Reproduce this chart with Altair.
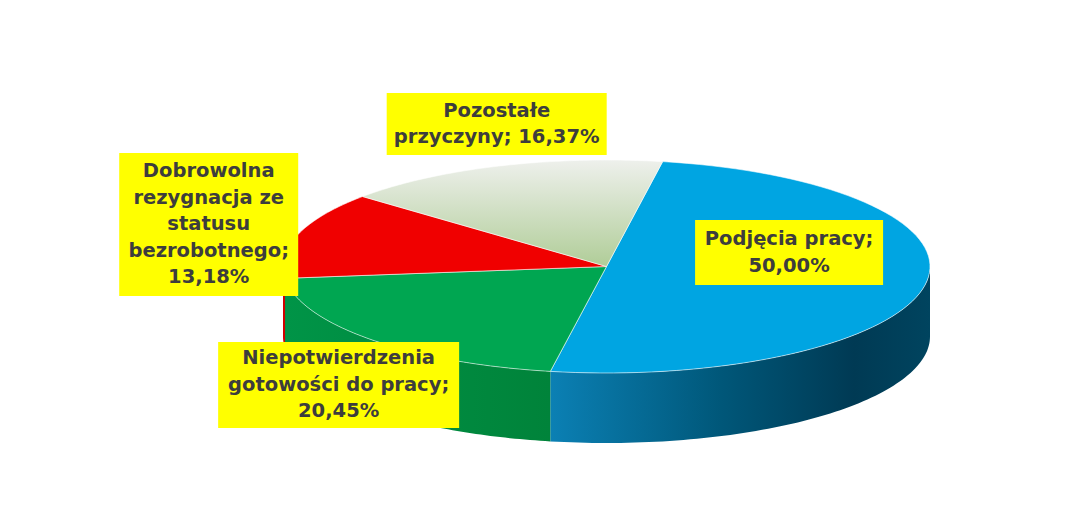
import altair as alt
import pandas as pd

# ---- data ----
categories = [
    "Podjęcia pracy",
    "Niepotwierdzenia gotowości do pracy",
    "Dobrowolna rezygnacja ze statusu bezrobotnego",
    "Pozostałe przyczyny",
]
values = [50.00, 20.45, 13.18, 16.37]
label_templates = [
    "Podjęcia pracy;\n{p}",
    "Niepotwierdzenia\ngotowości do pracy;\n{p}",
    "Dobrowolna\nrezygnacja ze\nstatusu\nbezrobotnego;\n{p}",
    "Pozostałe\nprzyczyny; {p}",
]

# ---- layout / style (not data) ----
RX, RY, DEPTH = 323.5, 106.5, 70.0      # ellipse radii and side depth, px
START_DEG = 10.0                        # first slice starts here (clockwise from top)
N = 80                                  # points per arc
LINE_H = 26.5
LABEL_DX = [-136, -32, -89, -2]
LABEL_DY = [32.5, -45.6, 10.3, 42]
BOX_W = [188, 241, 179, 220]
BOX_H = [65, 86, 143, 62]

TOP_FILL = [
    "#00a5e2",
    "#00a651",
    "#f00000",
    {"gradient": "linear", "x1": 0, "y1": 0, "x2": 0, "y2": 1,
     "stops": [{"offset": 0, "color": "#eef0ec"}, {"offset": 1, "color": "#b0cd98"}]},
]
WALL_FILL = [
    {"gradient": "linear", "x1": 0, "y1": 0, "x2": 1, "y2": 0,
     "stops": [{"offset": 0, "color": "#0b80b4"}, {"offset": 0.45, "color": "#005779"},
               {"offset": 0.8, "color": "#003a54"}, {"offset": 1, "color": "#00445f"}]},
    {"gradient": "linear", "x1": 0, "y1": 0, "x2": 1, "y2": 0,
     "stops": [{"offset": 0, "color": "#009447"}, {"offset": 1, "color": "#00833a"}]},
    "#d00000",
    None,
]


def pct(v):
    return f"{v:.2f}".replace(".", ",") + "%"


df = pd.DataFrame({
    "idx": list(range(len(categories))),
    "cat": categories,
    "value": values,
    "label": [t.format(p=pct(v)) for t, v in zip(label_templates, values)],
    "dx": LABEL_DX,
    "dy": LABEL_DY,
    "bw": BOX_W,
    "bh": BOX_H,
})

xs = alt.Scale(domain=[-RX, RX], nice=False, zero=False)
ys = alt.Scale(domain=[-RY - DEPTH, RY], nice=False, zero=False)

start = f"({START_DEG}*PI/180)"
base = (
    alt.Chart(df)
    .transform_window(cum="sum(value)", sort=[alt.SortField("idx")], frame=[None, 0])
    .transform_joinaggregate(total="sum(value)")
    .transform_calculate(
        a0=f"(datum.cum - datum.value)/datum.total*2*PI + {start}",
        a1=f"datum.cum/datum.total*2*PI + {start}",
    )
    .transform_calculate(am="(datum.a0 + datum.a1)/2")
)

geo_enc = dict(
    x=alt.X("px:Q", scale=xs, axis=None),
    y=alt.Y("py:Q", scale=ys, axis=None),
    order=alt.Order("seq:Q"),
)

# top faces: center -> arc -> center
top = (
    base.transform_calculate(seq=f"sequence(0, {N + 3})")
    .transform_flatten(["seq"])
    .transform_calculate(f=f"clamp((datum.seq - 1)/{N}, 0, 1)")
    .transform_calculate(t="datum.a0 + datum.f*(datum.a1 - datum.a0)")
    .transform_calculate(
        px=f"(datum.seq == 0 || datum.seq == {N + 2}) ? 0 : {RX}*sin(datum.t)",
        py=f"(datum.seq == 0 || datum.seq == {N + 2}) ? 0 : {RY}*cos(datum.t)",
    )
)

# front side walls: top edge then bottom edge back
wall = (
    base.transform_calculate(ta="max(datum.a0, PI/2)", tb="min(datum.a1, 3*PI/2)")
    .transform_filter("datum.tb > datum.ta")
    .transform_calculate(seq=f"sequence(0, {2 * N + 2})")
    .transform_flatten(["seq"])
    .transform_calculate(f=f"datum.seq <= {N} ? datum.seq/{N} : ({2 * N + 1} - datum.seq)/{N}")
    .transform_calculate(t="datum.ta + datum.f*(datum.tb - datum.ta)")
    .transform_calculate(
        px=f"{RX}*sin(datum.t)",
        py=f"{RY}*cos(datum.t) - (datum.seq <= {N} ? 0 : {DEPTH})",
    )
)

layers = []
for i, fill in enumerate(WALL_FILL):
    if fill is None:
        continue
    layers.append(
        wall.transform_filter(f"datum.idx == {i}")
        .mark_line(filled=True, fill=fill, strokeWidth=0)
        .encode(**geo_enc)
    )
for i, fill in enumerate(TOP_FILL):
    layers.append(
        top.transform_filter(f"datum.idx == {i}")
        .mark_line(filled=True, fill=fill, stroke="#ffffff", strokeOpacity=0.55, strokeWidth=1)
        .encode(**geo_enc)
    )

lab = base.transform_calculate(
    lx=f"{RX}*sin(datum.am) + datum.dx",
    ly=f"{RY}*cos(datum.am) + datum.dy",
    nl="length(split(datum.label, '\\n'))",
).transform_calculate(
    bx0="datum.lx - datum.bw/2", bx1="datum.lx + datum.bw/2",
    by0="datum.ly - datum.bh/2", by1="datum.ly + datum.bh/2",
    ty=f"datum.ly + (datum.nl - 1)/2*{LINE_H}",
)

boxes = lab.mark_rect(fill="#ffff00").encode(
    x=alt.X("bx0:Q", scale=xs, axis=None), x2="bx1:Q",
    y=alt.Y("by0:Q", scale=ys, axis=None), y2="by1:Q",
)
texts = lab.mark_text(
    font="DejaVu Sans", fontWeight="bold", fontSize=19.5, color="#3d3d3d",
    lineBreak="\n", lineHeight=LINE_H, align="center", baseline="middle",
).encode(
    x=alt.X("lx:Q", scale=xs, axis=None),
    y=alt.Y("ty:Q", scale=ys, axis=None),
    text="label:N",
)
layers += [boxes, texts]

chart = (
    alt.layer(*layers)
    .properties(
        width=2 * RX, height=2 * RY + DEPTH,
        padding={"left": 275, "top": 152, "right": 128, "bottom": 63},
        autosize=alt.AutoSizeParams(type="none"),
        background="#ffffff",
    )
    .configure_view(stroke=None)
)

chart.save("out.html", embed_options={"renderer": "svg", "actions": False})
